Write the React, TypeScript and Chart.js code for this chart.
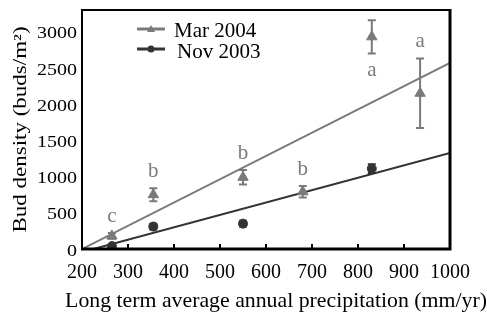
import React, { useEffect, useRef } from "react";
import { Chart, registerables } from "chart.js";

Chart.register(...registerables);

// Data
const marX = [265, 355, 550, 680, 830, 935];
const marY = [180, 750, 990, 790, 2930, 2150];
const marErr = [40, 90, 100, 80, 230, 480];
const marLetters = ["c", "b", "b", "b", "a", "a"];
const marLetterSide = [1, 1, 1, 1, -1, 1]; // 1 = above, -1 = below

const novX = [265, 355, 550, 830];
const novY = [40, 310, 350, 1110];
const novErr = [20, 40, 40, 60];

const marFitX = [200, 1000];
const marFitY = [0, 2570];
const novFitX = [225, 1000];
const novFitY = [0, 1325];

const xTicks = [200, 300, 400, 500, 600, 700, 800, 900, 1000];
const yTicks = [0, 500, 1000, 1500, 2000, 2500, 3000];

const seriesNames = ["Mar 2004", "Nov 2003"];
const xTitle = "Long term average annual precipitation (mm/yr)";
const yTitle = "Bud density (buds/m²)";

const GREY = "#7a7a7a";
const DARK = "#333333";
const FONT = "'Liberation Serif', 'Times New Roman', serif";

export default function App() {
  const ref = useRef<HTMLCanvasElement | null>(null);

  useEffect(() => {
    document.body.style.margin = "0";
    const canvas = ref.current;
    if (!canvas) return;

    const extrasPlugin = {
      id: "extras",
      beforeDatasetsDraw(chart: any) {
        const ctx = chart.ctx;
        const xs = chart.scales.x;
        const ys = chart.scales.y;
        const drawErr = (xArr: number[], yArr: number[], eArr: number[], color: string) => {
          ctx.save();
          ctx.strokeStyle = color;
          ctx.lineWidth = 2;
          xArr.forEach((xv, i) => {
            const px = xs.getPixelForValue(xv);
            const top = ys.getPixelForValue(yArr[i] + eArr[i]);
            const bot = ys.getPixelForValue(yArr[i] - eArr[i]);
            ctx.beginPath();
            ctx.moveTo(px, top);
            ctx.lineTo(px, bot);
            ctx.moveTo(px - 4, top);
            ctx.lineTo(px + 4, top);
            ctx.moveTo(px - 4, bot);
            ctx.lineTo(px + 4, bot);
            ctx.stroke();
          });
          ctx.restore();
        };
        drawErr(marX, marY, marErr, GREY);
        drawErr(novX, novY, novErr, DARK);
      },
      afterDraw(chart: any) {
        const ctx = chart.ctx;
        const xs = chart.scales.x;
        const ys = chart.scales.y;
        const area = chart.chartArea;

        // letters
        ctx.save();
        ctx.font = `21px ${FONT}`;
        ctx.fillStyle = GREY;
        ctx.textAlign = "center";
        ctx.textBaseline = "middle";
        marX.forEach((xv, i) => {
          const side = marLetterSide[i];
          const end = ys.getPixelForValue(marY[i] + side * marErr[i]);
          const py = end - side * 17;
          ctx.fillText(marLetters[i], xs.getPixelForValue(xv), py);
        });
        ctx.restore();

        // frame
        ctx.save();
        ctx.strokeStyle = "#000";
        ctx.lineWidth = 2;
        ctx.beginPath();
        ctx.moveTo(area.left, area.bottom);
        ctx.lineTo(area.left, area.top);
        ctx.lineTo(area.right, area.top);
        ctx.stroke();
        ctx.lineWidth = 3;
        ctx.beginPath();
        ctx.moveTo(area.right, area.top - 1);
        ctx.lineTo(area.right, area.bottom);
        ctx.lineTo(area.left - 1, area.bottom);
        ctx.stroke();
        // inward x ticks
        ctx.lineWidth = 2;
        xTicks.forEach((t) => {
          const px = xs.getPixelForValue(t);
          ctx.beginPath();
          ctx.moveTo(px, area.bottom);
          ctx.lineTo(px, area.bottom - 5);
          ctx.stroke();
        });
        ctx.restore();

        // x tick labels
        ctx.save();
        ctx.fillStyle = "#000";
        ctx.font = `20px ${FONT}`;
        ctx.textAlign = "center";
        ctx.textBaseline = "alphabetic";
        xTicks.forEach((t) => {
          ctx.fillText(String(t), xs.getPixelForValue(t), area.bottom + 29);
        });
        // x title
        ctx.font = `21.8px ${FONT}`;
        ctx.fillText(xTitle, (area.left + area.right) / 2 + 10, area.bottom + 58);
        ctx.restore();

        // y tick labels (slightly compressed vertically)
        ctx.save();
        ctx.fillStyle = "#000";
        ctx.font = `20px ${FONT}`;
        ctx.textAlign = "right";
        ctx.textBaseline = "middle";
        yTicks.forEach((t) => {
          ctx.save();
          ctx.translate(area.left - 5, ys.getPixelForValue(t) + 2.5);
          ctx.scale(1, 0.8);
          ctx.fillText(String(t), 0, 0);
          ctx.restore();
        });
        // y title
        ctx.save();
        ctx.translate(21, (area.top + area.bottom) / 2);
        ctx.rotate(-Math.PI / 2);
        ctx.scale(1, 0.78);
        ctx.font = `23px ${FONT}`;
        ctx.textAlign = "center";
        ctx.textBaseline = "middle";
        ctx.fillText(yTitle, 0, 0);
        ctx.restore();
        ctx.restore();

        // legend
        ctx.save();
        const lx0 = area.left + 55;
        const lx1 = area.left + 83;
        const rows = [
          { y: area.top + 19, color: GREY, shape: "tri", ty: area.top + 21 },
          { y: area.top + 39, color: DARK, shape: "circ", ty: area.top + 42 },
        ];
        rows.forEach((r, i) => {
          ctx.strokeStyle = r.color;
          ctx.fillStyle = r.color;
          ctx.lineWidth = 3;
          ctx.beginPath();
          ctx.moveTo(lx0, r.y);
          ctx.lineTo(lx1, r.y);
          ctx.stroke();
          const cx = (lx0 + lx1) / 2;
          ctx.beginPath();
          if (r.shape === "tri") {
            ctx.moveTo(cx, r.y - 4);
            ctx.lineTo(cx + 4, r.y + 3);
            ctx.lineTo(cx - 4, r.y + 3);
            ctx.closePath();
          } else {
            ctx.arc(cx, r.y, 3.5, 0, Math.PI * 2);
          }
          ctx.fill();
          ctx.fillStyle = "#000";
          ctx.font = `21px ${FONT}`;
          ctx.textAlign = "left";
          ctx.textBaseline = "middle";
          ctx.fillText(seriesNames[i], lx1 + 9 + i * 3, r.ty);
        });
        ctx.restore();
      },
    };

    const chart = new Chart(canvas, {
      type: "scatter",
      data: {
        datasets: [
          {
            label: seriesNames[0],
            data: marX.map((x, i) => ({ x, y: marY[i] })),
            pointStyle: "triangle",
            pointRadius: 6,
            backgroundColor: GREY,
            borderColor: GREY,
            borderWidth: 1,
            order: 0,
          },
          {
            label: seriesNames[1],
            data: novX.map((x, i) => ({ x, y: novY[i] })),
            pointStyle: "circle",
            pointRadius: 4.5,
            backgroundColor: DARK,
            borderColor: DARK,
            borderWidth: 1,
            order: 0,
          },
          {
            label: "fit Mar",
            data: marFitX.map((x, i) => ({ x, y: marFitY[i] })),
            showLine: true,
            pointRadius: 0,
            borderColor: GREY,
            borderWidth: 2,
            order: 1,
          },
          {
            label: "fit Nov",
            data: novFitX.map((x, i) => ({ x, y: novFitY[i] })),
            showLine: true,
            pointRadius: 0,
            borderColor: DARK,
            borderWidth: 2,
            order: 1,
          },
        ],
      },
      options: {
        responsive: false,
        animation: false,
        layout: { padding: { top: 10, right: 37, left: 0, bottom: 0 } },
        plugins: {
          legend: { display: false },
          tooltip: { enabled: false },
        },
        scales: {
          x: {
            type: "linear",
            min: 200,
            max: 1000,
            afterBuildTicks: (s: any) => {
              s.ticks = xTicks.map((v) => ({ value: v }));
            },
            afterFit: (s: any) => {
              s.height = 63;
            },
            grid: { display: false, drawTicks: false },
            border: { display: false },
            ticks: { display: false },
            title: { display: false },
          },
          y: {
            type: "linear",
            min: 0,
            max: 3300,
            afterBuildTicks: (s: any) => {
              s.ticks = yTicks.map((v) => ({ value: v }));
            },
            afterFit: (s: any) => {
              s.width = 82;
            },
            grid: { display: false, drawTicks: false },
            border: { display: false },
            ticks: { display: false },
            title: { display: false },
          },
        },
      },
      plugins: [extrasPlugin],
    });

    return () => chart.destroy();
  }, []);

  return (
    <div style={{ width: 487, height: 312 }}>
      <canvas ref={ref} width={487} height={312} style={{ display: "block" }} />
    </div>
  );
}
